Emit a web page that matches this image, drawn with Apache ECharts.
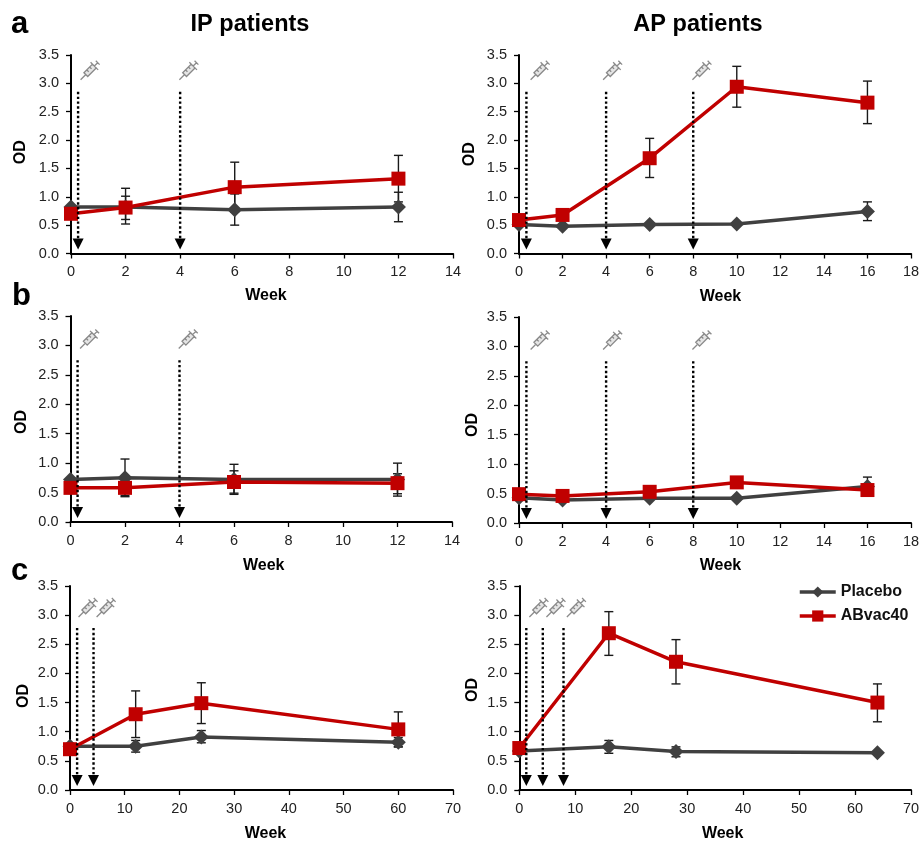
<!DOCTYPE html>
<html>
<head>
<meta charset="utf-8">
<style>html,body{margin:0;padding:0;background:#fff}#c{width:921px;height:842px}</style>
<script src="https://cdn.jsdelivr.net/npm/echarts@6/dist/echarts.min.js"></script>
</head>
<body>
<div id="c"></div>
<script>
// ---- Data ----
const yTicksMax = 3.5;
const seriesNames = ['Placebo', 'ABvac40'];
const columnTitles = ['IP patients', 'AP patients'];
const panelLetters = ['a', 'b', 'c'];

// a, IP
const aIPWeeks = [0, 2, 6, 12];
const aIPPlacebo = [0.82, 0.82, 0.77, 0.82];
const aIPPlaceboLow = [null, 0.60, 0.50, 0.56];
const aIPPlaceboHigh = [null, 1.01, 1.05, 1.08];
const aIPVac = [0.70, 0.81, 1.17, 1.32];
const aIPVacLow = [null, 0.52, 0.73, 0.91];
const aIPVacHigh = [null, 1.15, 1.61, 1.73];
const aIPDoses = [0.26, 4];
const aIPSyringes = [0.7, 4.32];
// a, AP
const aAPWeeks = [0, 2, 6, 10, 16];
const aAPPlacebo = [0.51, 0.48, 0.51, 0.52, 0.74];
const aAPPlaceboLow = [null, null, null, null, 0.58];
const aAPPlaceboHigh = [null, null, null, null, 0.91];
const aAPVac = [0.59, 0.68, 1.68, 2.94, 2.66];
const aAPVacLow = [null, null, 1.34, 2.58, 2.29];
const aAPVacHigh = [null, null, 2.03, 3.30, 3.04];
const aAPDoses = [0.34, 4, 8];
const aAPSyringes = [0.97, 4.3, 8.4];
// b, IP
const bIPWeeks = [0, 2, 6, 12];
const bIPPlacebo = [0.72, 0.75, 0.72, 0.72];
const bIPPlaceboLow = [null, 0.43, 0.47, 0.44];
const bIPPlaceboHigh = [null, 1.07, 0.98, 1.00];
const bIPVac = [0.58, 0.58, 0.68, 0.66];
const bIPVacLow = [null, 0.45, 0.49, 0.48];
const bIPVacHigh = [null, 0.71, 0.87, 0.82];
const bIPDoses = [0.26, 4];
const bIPSyringes = [0.7, 4.32];
// b, AP
const bAPWeeks = [0, 2, 6, 10, 16];
const bAPPlacebo = [0.43, 0.39, 0.42, 0.42, 0.62];
const bAPPlaceboLow = [null, null, null, null, 0.46];
const bAPPlaceboHigh = [null, null, null, null, 0.78];
const bAPVac = [0.49, 0.46, 0.53, 0.69, 0.56];
const bAPVacLow = [null, null, null, null, null];
const bAPVacHigh = [null, null, null, null, null];
const bAPDoses = [0.34, 4, 8];
const bAPSyringes = [0.97, 4.3, 8.4];
// c, IP
const cIPWeeks = [0, 12, 24, 60];
const cIPPlacebo = [0.75, 0.75, 0.91, 0.82];
const cIPPlaceboLow = [null, 0.65, 0.81, 0.74];
const cIPPlaceboHigh = [null, 0.85, 1.02, 0.90];
const cIPVac = [0.70, 1.30, 1.49, 1.04];
const cIPVacLow = [null, 0.90, 1.14, 0.74];
const cIPVacHigh = [null, 1.70, 1.84, 1.34];
const cIPDoses = [1.3, 4.3];
const cIPSyringes = [3.3, 6.6];
// c, AP
const cAPWeeks = [0, 16, 28, 64];
const cAPPlacebo = [0.67, 0.74, 0.66, 0.64];
const cAPPlaceboLow = [null, 0.63, 0.57, null];
const cAPPlaceboHigh = [null, 0.85, 0.74, null];
const cAPVac = [0.72, 2.69, 2.20, 1.50];
const cAPVacLow = [null, 2.31, 1.82, 1.17];
const cAPVacHigh = [null, 3.06, 2.58, 1.82];
const cAPDoses = [1.25, 4.2, 7.9];
const cAPSyringes = [3.5, 6.55, 10.2];

// ---- Layout ----
const FONT = '"Liberation Sans", Arial, sans-serif';
const GREY = '#404040', RED = '#c00000';
const SYRINGE = 'path://M0 20L5 15M3.5 12.5L12.5 3.5L16.5 7.5L7.5 16.5ZM10.5 1.5L18.5 9.5M14.5 5.5L18 2M16 0L20 4M6.5 9.5L8.5 11.5M9.5 6.5L11.5 8.5';

const panels = [
  {l:71, r:453, t:55, b:253.5, xMax:14, xInt:2, wks:aIPWeeks, p:aIPPlacebo, pl:aIPPlaceboLow, ph:aIPPlaceboHigh, v:aIPVac, vl:aIPVacLow, vh:aIPVacHigh, doses:aIPDoses, syr:aIPSyringes, syrY:3.23, top:2.85, tip:0.07, odGap:42, odShift:-4, wkGap:34, wkShift:8},
  {l:519, r:911, t:55, b:253.5, xMax:18, xInt:2, wks:aAPWeeks, p:aAPPlacebo, pl:aAPPlaceboLow, ph:aAPPlaceboHigh, v:aAPVac, vl:aAPVacLow, vh:aAPVacHigh, doses:aAPDoses, syr:aAPSyringes, syrY:3.23, top:2.85, tip:0.07, odGap:41, odShift:0, wkGap:35, wkShift:11},
  {l:70.5, r:452, t:316, b:522, xMax:14, xInt:2, wks:bIPWeeks, p:bIPPlacebo, pl:bIPPlaceboLow, ph:bIPPlaceboHigh, v:bIPVac, vl:bIPVacLow, vh:bIPVacHigh, doses:bIPDoses, syr:bIPSyringes, syrY:3.11, top:2.75, tip:0.07, odGap:41, odShift:6, wkGap:36, wkShift:5},
  {l:519, r:911, t:317, b:523, xMax:18, xInt:2, wks:bAPWeeks, p:bAPPlacebo, pl:bAPPlaceboLow, ph:bAPPlaceboHigh, v:bAPVac, vl:bAPVacLow, vh:bAPVacHigh, doses:bAPDoses, syr:bAPSyringes, syrY:3.11, top:2.75, tip:0.07, odGap:38, odShift:10, wkGap:35, wkShift:11},
  {l:70, r:453, t:586, b:790, xMax:70, xInt:10, wks:cIPWeeks, p:cIPPlacebo, pl:cIPPlaceboLow, ph:cIPPlaceboHigh, v:cIPVac, vl:cIPVacLow, vh:cIPVacHigh, doses:cIPDoses, syr:cIPSyringes, syrY:3.13, top:2.78, tip:0.07, odGap:38, odShift:16, wkGap:36, wkShift:8},
  {l:519.3, r:911, t:586, b:790, xMax:70, xInt:10, wks:cAPWeeks, p:cAPPlacebo, pl:cAPPlaceboLow, ph:cAPPlaceboHigh, v:cAPVac, vl:cAPVacLow, vh:cAPVacHigh, doses:cAPDoses, syr:cAPSyringes, syrY:3.13, top:2.78, tip:0.07, odGap:39, odShift:4, wkGap:36, wkShift:15}
];

const axisLine = {show:true, onZero:false, lineStyle:{color:'#000', width:2}};
const axisTick = {show:true, inside:false, length:5, lineStyle:{color:'#000', width:1.3}};
const tickLabel = {color:'#222', fontFamily:FONT, fontSize:14.5};
const axisName = {color:'#000', fontFamily:FONT, fontSize:16, fontWeight:'bold'};

const errorSeries = (i, wks, low, high) => ({
  type:'custom', xAxisIndex:i, yAxisIndex:i, z:2, silent:true, clip:false,
  data: wks.map((w, k) => [w, low[k], high[k]]).filter(d => d[1] !== null),
  encode:{x:0, y:[1,2]},
  renderItem(params, api){
    const a = api.coord([api.value(0), api.value(1)]);
    const b = api.coord([api.value(0), api.value(2)]);
    const st = {stroke:'#1a1a1a', lineWidth:1.4, fill:null};
    const seg = (x1,y1,x2,y2) => ({type:'line', shape:{x1,y1,x2,y2}, style:st});
    return {type:'group', children:[
      seg(a[0],a[1],b[0],b[1]), seg(a[0]-4.5,a[1],a[0]+4.5,a[1]), seg(b[0]-4.5,b[1],b[0]+4.5,b[1])
    ]};
  }
});

const doseSeries = (i, doses, top, tip) => ({
  type:'custom', xAxisIndex:i, yAxisIndex:i, z:6, silent:true, clip:false,
  data: doses.map(d => [d, top, tip]),
  encode:{x:0, y:1},
  renderItem(params, api){
    const a = api.coord([api.value(0), api.value(1)]);
    const b = api.coord([api.value(0), api.value(2)]);
    return {type:'group', children:[
      {type:'line', shape:{x1:a[0],y1:a[1],x2:a[0],y2:b[1]-9}, style:{stroke:'#000', lineWidth:2.4, lineDash:[2.4,2.4], fill:null}},
      {type:'polygon', shape:{points:[[b[0]-5.5,b[1]-11],[b[0]+5.5,b[1]-11],[b[0],b[1]]]}, style:{fill:'#000'}}
    ]};
  }
});

const option = {
  animation:false,
  backgroundColor:'#fff',
  textStyle:{fontFamily:FONT},
  title:[
    {text:columnTitles[0], left:245, top:8, textAlign:'center', textStyle:{fontFamily:FONT, fontWeight:'bold', fontSize:23.5, color:'#000'}},
    {text:columnTitles[1], left:693, top:8, textAlign:'center', textStyle:{fontFamily:FONT, fontWeight:'bold', fontSize:23.5, color:'#000'}},
    {text:panelLetters[0], left:6, top:4, textStyle:{fontFamily:FONT, fontWeight:'bold', fontSize:31, color:'#000'}},
    {text:panelLetters[1], left:7, top:276, textStyle:{fontFamily:FONT, fontWeight:'bold', fontSize:31, color:'#000'}},
    {text:panelLetters[2], left:6, top:551, textStyle:{fontFamily:FONT, fontWeight:'bold', fontSize:31, color:'#000'}}
  ],
  legend:{
    data:seriesNames, orient:'vertical', left:793, top:579, itemWidth:36, itemHeight:14, itemGap:8,
    selectedMode:false, lineStyle:{width:3.5},
    textStyle:{fontFamily:FONT, fontSize:16, fontWeight:'bold', color:'#111'}
  },
  grid:panels.map(p => ({left:p.l, top:p.t, width:p.r-p.l, height:p.b-p.t, containLabel:false, outerBoundsMode:'none'})),
  xAxis:panels.map((p,i) => ({
    type:'value', gridIndex:i, min:0, max:p.xMax, interval:p.xInt, splitLine:{show:false},
    axisLine, axisTick, axisLabel:{...tickLabel, margin:11},
    name:'Week', nameLocation:'middle', nameGap:p.wkGap, nameTextStyle:{...axisName, padding:[0,0,0,p.wkShift]}
  })),
  yAxis:panels.map((p,i) => ({
    type:'value', gridIndex:i, min:0, max:yTicksMax, interval:0.5, splitLine:{show:false},
    axisLine, axisTick, axisLabel:{...tickLabel, margin:12, formatter:v => v.toFixed(1)},
    name:'OD', nameLocation:'middle', nameGap:p.odGap,
    nameTextStyle:{...axisName, padding:[0,Math.max(p.odShift,0),0,Math.max(-p.odShift,0)]}
  })),
  series:panels.flatMap((p,i) => [
    errorSeries(i, p.wks, p.pl, p.ph),
    errorSeries(i, p.wks, p.vl, p.vh),
    {name:seriesNames[0], type:'line', xAxisIndex:i, yAxisIndex:i, z:3, clip:false, silent:true,
     data:p.wks.map((w,k)=>[w,p.p[k]]), symbol:'diamond', symbolSize:15,
     lineStyle:{color:GREY, width:3.5}, itemStyle:{color:GREY}},
    {name:seriesNames[1], type:'line', xAxisIndex:i, yAxisIndex:i, z:4, clip:false, silent:true,
     data:p.wks.map((w,k)=>[w,p.v[k]]), symbol:'rect', symbolSize:14,
     lineStyle:{color:RED, width:3.5}, itemStyle:{color:RED}},
    doseSeries(i, p.doses, p.top, p.tip),
    {type:'scatter', xAxisIndex:i, yAxisIndex:i, z:5, silent:true, clip:false,
     data:p.syr.map(x=>[x,p.syrY]), symbol:SYRINGE, symbolSize:19,
     itemStyle:{color:'rgba(150,150,150,0.3)', borderColor:'#6e6e6e', borderWidth:1.3}}
  ])
};
echarts.init(document.getElementById('c'), null, {renderer:'canvas'}).setOption(option);
</script>
</body>
</html>
